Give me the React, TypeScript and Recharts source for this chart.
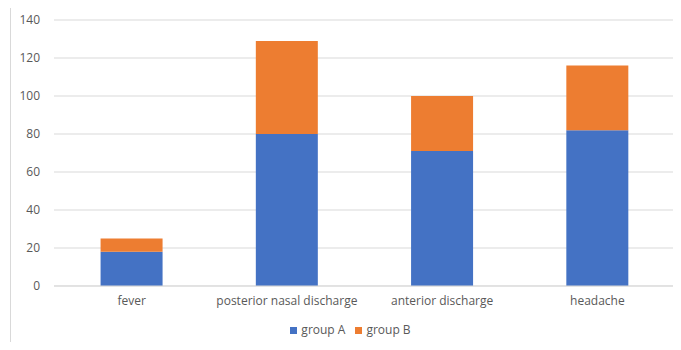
import { Bar, BarChart, CartesianGrid, Legend, XAxis, YAxis } from "recharts";

const categories = ["fever", "posterior nasal discharge", "anterior discharge", "headache"];
const groupA = [18, 80, 71, 82];
const groupB = [7, 49, 29, 34];
const yTicks = [0, 20, 40, 60, 80, 100, 120, 140];

const BLUE = "#4472c4";
const ORANGE = "#ed7d31";
const TEXT = "#595959";
const FONT = "'Open Sans', 'Noto Sans', sans-serif";

const data = categories.map((name, i) => ({ name, a: groupA[i], b: groupB[i] }));

export default function App() {
  return (
    <div style={{ position: "relative", width: 681, height: 350, margin: -8, background: "#fff", overflow: "hidden", fontFamily: FONT }}>
      <div
        style={{
          position: "absolute",
          left: 10,
          top: 6,
          width: 700,
          height: 400,
          border: "1px solid #d9d9d9",
          boxSizing: "border-box",
        }}
      />
      <BarChart
        width={681}
        height={350}
        data={data}
        margin={{ top: 20, right: 6, bottom: 12, left: 10 }}
        barCategoryGap="30%"
        style={{ position: "absolute", left: 0, top: 0 }}
      >
        <CartesianGrid vertical={false} stroke="#d9d9d9" />
        <XAxis
          dataKey="name"
          axisLine={{ stroke: "#d9d9d9" }}
          tickLine={false}
          tickMargin={4}
          height={35}
          tick={{ fontSize: 12, fill: TEXT, fontFamily: FONT }}
          interval={0}
        />
        <YAxis
          width={44}
          domain={[0, 140]}
          ticks={yTicks}
          axisLine={false}
          tickLine={false}
          tickMargin={8}
          tick={{ fontSize: 12, fill: TEXT, fontFamily: FONT }}
        />
        <Legend
          verticalAlign="bottom"
          iconType="square"
          iconSize={7}
          wrapperStyle={{ fontSize: 12, fontFamily: FONT, paddingLeft: 13 }}
          formatter={(v) => <span style={{ color: TEXT }}>{v}</span>}
        />
        <Bar dataKey="a" name="group A" stackId="s" fill={BLUE} isAnimationActive={false} />
        <Bar dataKey="b" name="group B" stackId="s" fill={ORANGE} isAnimationActive={false} />
      </BarChart>
    </div>
  );
}
